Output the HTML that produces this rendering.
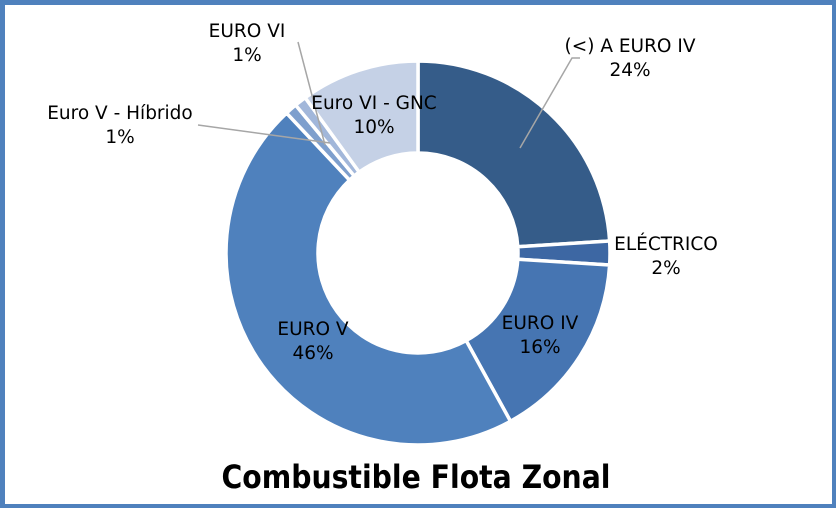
<!DOCTYPE html>
<html><head><meta charset="utf-8"><style>
html,body{margin:0;padding:0;background:#fff}
#wrap{position:relative;width:836px;height:508px;box-sizing:border-box;border:5px solid #4f81bd;border-right-width:4px;border-bottom-width:4px;background:#fff}
svg{position:absolute;left:-5px;top:-5px}
text{font-family:"DejaVu Sans","Liberation Sans",sans-serif;fill:#000}
</style></head><body>
<div id="wrap">
<svg id="chart" width="836" height="508"></svg>
</div>
<script>
const categories=["(<) A EURO IV","ELÉCTRICO","EURO IV","EURO V","Euro V - Híbrido","EURO VI","Euro VI - GNC"];
const values=[24,2,16,46,1,1,10];
const labels=["24%","2%","16%","46%","1%","1%","10%"];
const colors=["#355c89","#3d67a3","#4675b2","#4f81bd","#7e9fcd","#a2b7da","#c5d1e6"];
// label anchor positions (layout only)
const labelPos=[[630,52],[666,250],[540,329],[313,335],[120,119],[247,37],[374,109]];
const leaders=[[[580,58],[572,58],[520,148]],null,null,null,[[198,125],[330,143]],[[298,42],[325,145]],null];
const svg=document.getElementById('chart');
const NS='http://www.w3.org/2000/svg';
const cx=418,cy=253,R=192,r=100;
const total=values.reduce((a,b)=>a+b,0);
function pt(a,rad){return [cx+rad*Math.sin(a),cy-rad*Math.cos(a)];}
let acc=0;
values.forEach((v,i)=>{
  const a0=acc/total*2*Math.PI;acc+=v;const a1=acc/total*2*Math.PI;
  const large=(a1-a0)>Math.PI?1:0;
  const p0=pt(a0,R),p1=pt(a1,R),q1=pt(a1,r),q0=pt(a0,r);
  const p=document.createElementNS(NS,'path');
  p.setAttribute('d',`M${p0[0]},${p0[1]}A${R},${R} 0 ${large} 1 ${p1[0]},${p1[1]}L${q1[0]},${q1[1]}A${r},${r} 0 ${large} 0 ${q0[0]},${q0[1]}Z`);
  p.setAttribute('fill',colors[i]);p.setAttribute('stroke','#fff');p.setAttribute('stroke-width','3.5');
  
  
  svg.appendChild(p);
});
leaders.forEach((l,i)=>{
  if(!l)return;
  const pl=document.createElementNS(NS,'polyline');
  pl.setAttribute('points',l.map(q=>q.join(',')).join(' '));
  pl.setAttribute('fill','none');pl.setAttribute('stroke','#a6a6a6');pl.setAttribute('stroke-width','1.5');
  
  
  svg.appendChild(pl);
});
categories.forEach((c,i)=>{
  const [x,y]=labelPos[i];
  const t=document.createElementNS(NS,'text');
  t.setAttribute('x',x);t.setAttribute('y',y);t.setAttribute('text-anchor','middle');t.setAttribute('font-size','18.5');
  
  
  const s1=document.createElementNS(NS,'tspan');s1.setAttribute('x',x);s1.textContent=c;
  const s2=document.createElementNS(NS,'tspan');s2.setAttribute('x',x);s2.setAttribute('dy','24');s2.textContent=labels[i];
  t.appendChild(s1);t.appendChild(s2);svg.appendChild(t);
});
const ti=document.createElementNS(NS,'text');
ti.setAttribute('x',416);ti.setAttribute('y',488);ti.setAttribute('text-anchor','middle');
ti.setAttribute('font-size','32');ti.setAttribute('font-weight','bold');
ti.setAttribute('textLength','389');ti.setAttribute('lengthAdjust','spacingAndGlyphs');


ti.textContent='Combustible Flota Zonal';
svg.appendChild(ti);
</script>
</body></html>
